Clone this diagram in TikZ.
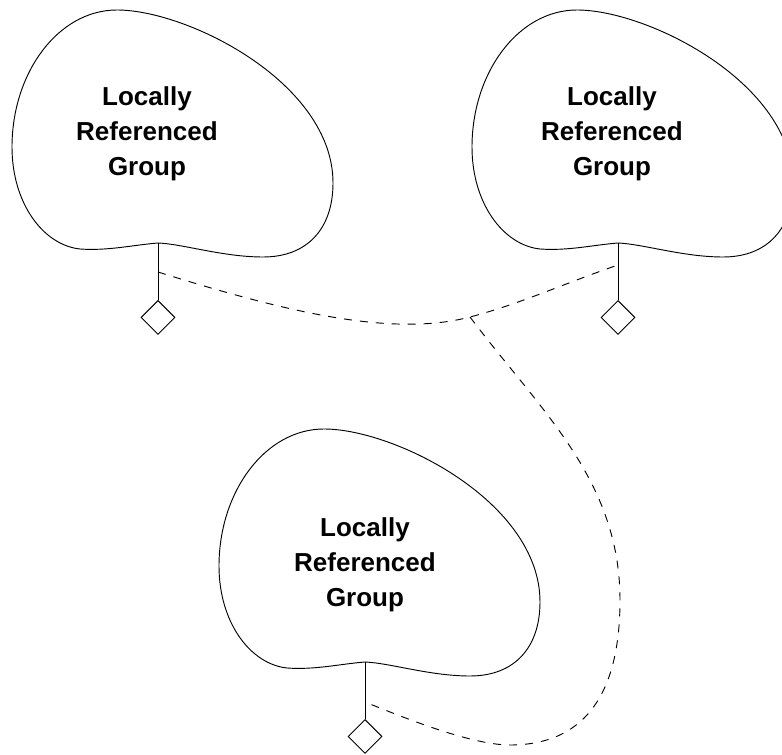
\documentclass[tikz,border=0pt]{standalone}
\usepackage{fontspec}
\setmainfont{Liberation Sans}
\usetikzlibrary{shapes.geometric}

\begin{document}
\begin{tikzpicture}[x=0.75pt,y=0.75pt,yscale=-1,xscale=1,line width=0.7pt,
		grouptext/.style={align=center,inner sep=0pt,font=\fontsize{19.5}{26.25}\selectfont\bfseries},
		handle/.style={draw,diamond,shape aspect=1,minimum width=25.5pt,minimum height=25.5pt,inner sep=0pt,anchor=north},
		reflink/.style={dash pattern={on 6pt off 6pt}}]
		\useasboundingbox (0,0) rectangle (782,755);

		%Shape: Blob [id:left]
		\draw [shift={(158,243)}] (0,0) .. controls (-25,2) and (-50,8) .. (-78,6) .. controls (-115,2) and (-146,-40) .. (-146,-96) .. controls (-146,-170) and (-100,-233) .. (-41,-233) .. controls (30,-233) and (175,-160) .. (175,-60) .. controls (175,-15) and (150,14) .. (105,14) .. controls (65,14) and (25,1) .. (0,0) -- cycle ;
		%Shape: Blob [id:right]
		\draw [shift={(618,243)}] (0,0) .. controls (-25,2) and (-50,8) .. (-78,6) .. controls (-115,2) and (-146,-40) .. (-146,-96) .. controls (-146,-170) and (-100,-233) .. (-41,-233) .. controls (30,-233) and (175,-160) .. (175,-60) .. controls (175,-15) and (150,14) .. (105,14) .. controls (65,14) and (25,1) .. (0,0) -- cycle ;
		%Shape: Blob [id:bottom]
		\draw [shift={(365,662)}] (0,0) .. controls (-25,2) and (-50,8) .. (-78,6) .. controls (-115,2) and (-146,-40) .. (-146,-96) .. controls (-146,-170) and (-100,-233) .. (-41,-233) .. controls (30,-233) and (175,-160) .. (175,-60) .. controls (175,-15) and (150,14) .. (105,14) .. controls (65,14) and (25,1) .. (0,0) -- cycle ;

		% Stem tops and link ends
		\coordinate (topA) at (158,243);
		\coordinate (topB) at (618,243);
		\coordinate (topC) at (365,662);
		\coordinate (jA) at (158,272);
		\coordinate (jB) at (618,265);
		\coordinate (jC) at (365,702);
		\coordinate (fork) at (470,317);

		%Shape: Diamond
		\node [handle] (dmA) at (158,300) {};
		\node [handle] (dmB) at (618,300) {};
		\node [handle] (dmC) at (365,719) {};

		%Straight Lines
		\draw (topA) -- (dmA);
		\draw (topB) -- (dmB);
		\draw (topC) -- (dmC);

		%Curve Lines
		\draw [reflink] (jA) .. controls (280,310) and (390,338) .. (fork) .. controls (520,304) and (568,282) .. (jB);
		%Curve Lines
		\draw [reflink] (fork) .. controls (540,410) and (620,480) .. (620,600) .. controls (620,700) and (580,745) .. (510,745) .. controls (470,745) and (400,716) .. (jC);

		% Text Node
		\node [grouptext] (grpA) at (147,133.5) {Locally\\Referenced\\Group};
		% Text Node
		\node [grouptext] (grpB) at (612,133.5) {Locally\\Referenced\\Group};
		% Text Node
		\node [grouptext] (grpC) at (365,564.5) {Locally\\Referenced\\Group};

\end{tikzpicture}
\end{document}
